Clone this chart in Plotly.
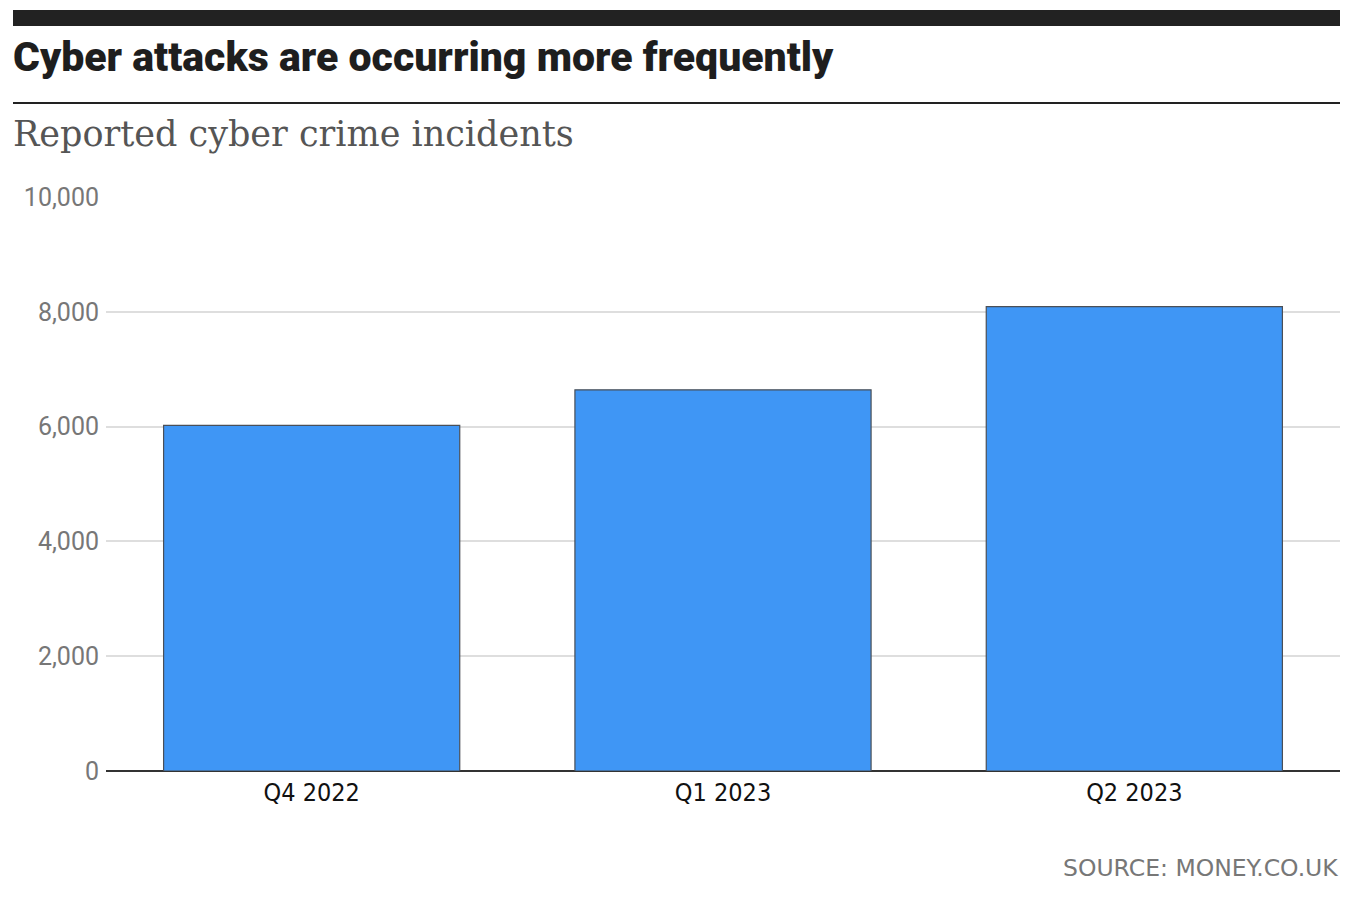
import plotly.graph_objects as go

categories = ["Q4 2022", "Q1 2023", "Q2 2023"]
incidents = [6020, 6640, 8090]
y_ticks = [0, 2000, 4000, 6000, 8000, 10000]
y_tick_labels = ["0", "2,000", "4,000", "6,000", "8,000", "10,000"]

OFF = 8  # browser body margin
W, H = 1346, 884
L = 106 - OFF
T = 197 - OFF
R = W - (1340 - OFF)
B = H - (771 - OFF)
PW, PH = W - L - R, H - T - B

def px(x):
    return (x - OFF - L) / PW

def py(y):
    return (H - B - (y - OFF)) / PH

fig = go.Figure()
fig.add_trace(go.Bar(
    x=categories, y=incidents,
    marker=dict(color="#3f96f5", line=dict(color="#4a4f57", width=1.2)),
    width=0.72,
    hoverinfo="x+y",
))

fig.update_layout(
    width=W, height=H,
    margin=dict(l=L, r=R, t=T, b=B),
    paper_bgcolor="white", plot_bgcolor="white",
    showlegend=False,
    xaxis=dict(
        showgrid=False, showline=False, zeroline=False,
        tickfont=dict(family="DejaVu Sans Condensed, Roboto", size=25, color="#111"),
        ticks="", ticklabelstandoff=4,
    ),
    yaxis=dict(
        range=[0, 10000], tickvals=y_ticks, ticktext=y_tick_labels,
        showgrid=True, gridcolor="#dedede", gridwidth=2,
        zeroline=True, zerolinecolor="#333", zerolinewidth=2,
        showline=False, ticks="",
        tickfont=dict(family="Roboto", size=25, color="#777"),
        ticklabelstandoff=6,
    ),
    shapes=[
        dict(type="rect", xref="paper", yref="paper",
             x0=px(13), x1=px(1340), y0=py(26), y1=py(10),
             fillcolor="#222", line=dict(width=0)),
        dict(type="line", xref="paper", yref="paper",
             x0=px(13), x1=px(1340), y0=py(103), y1=py(103),
             line=dict(color="#222", width=2)),
    ],
    annotations=[
        dict(text="Cyber attacks are occurring more frequently",
             xref="paper", yref="paper", x=px(11), y=py(57),
             xanchor="left", yanchor="middle", showarrow=False,
             font=dict(family="Roboto", size=41, weight=900, color="#1e1e1e")),
        dict(text="Reported cyber crime incidents",
             xref="paper", yref="paper", x=px(11), y=py(134),
             xanchor="left", yanchor="middle", showarrow=False,
             font=dict(family="DejaVu Serif", size=35, color="#555")),
        dict(text="SOURCE: MONEY.CO.UK",
             xref="paper", yref="paper", x=px(1340), y=py(868),
             xanchor="right", yanchor="middle", showarrow=False,
             font=dict(family="DejaVu Sans", size=23.5, color="#777")),
    ],
)

fig.write_html("out.html")
